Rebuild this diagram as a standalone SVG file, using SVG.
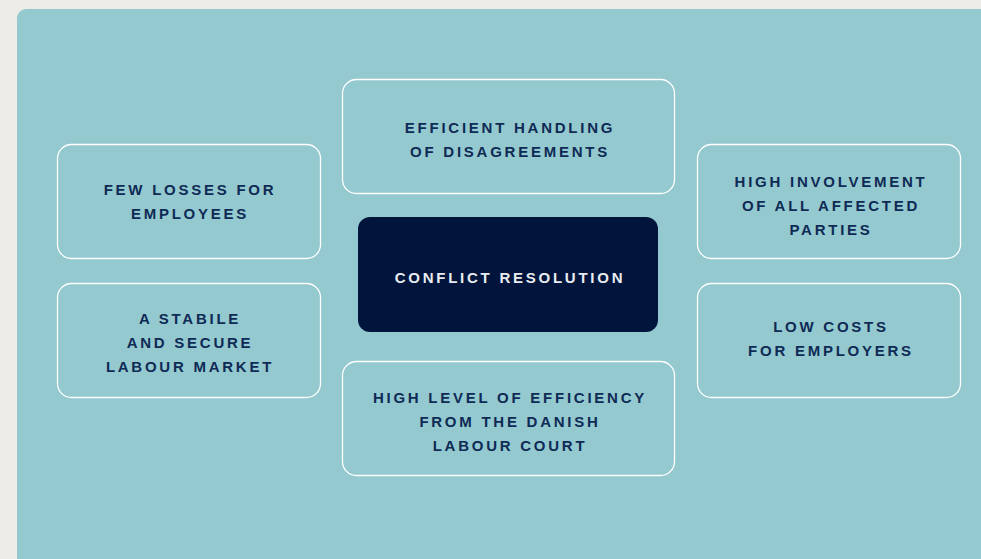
<svg xmlns="http://www.w3.org/2000/svg" width="981" height="559" viewBox="0 0 981 559">
<style>
.box{fill:none;stroke:#ffffff;stroke-width:1.3}
.lbl{font-family:"Liberation Sans",Arial,sans-serif;font-weight:bold;font-size:15px;letter-spacing:2.75px;fill:#0f2a55;text-anchor:middle}
.hub{fill:#00143c}
.hubt{fill:#e8ebef}
</style>
<rect x="0" y="0" width="981" height="559" fill="#edece6"/>
<rect x="17" y="9" width="990" height="580" rx="9" fill="#93c9cf"/>
<g id="connectors"></g>
<g id="n-top">
<rect class="box" x="342.5" y="79.5" width="332" height="114" rx="14"/>
<text class="lbl" x="510" y="133">EFFICIENT HANDLING</text>
<text class="lbl" x="510" y="157">OF DISAGREEMENTS</text>
</g>
<g id="n-center">
<rect class="hub" x="358" y="217" width="300" height="115" rx="12"/>
<text class="lbl hubt" x="510" y="283">CONFLICT RESOLUTION</text>
</g>
<g id="n-left-top">
<rect class="box" x="57.5" y="144.5" width="263" height="114" rx="14"/>
<text class="lbl" x="190" y="195">FEW LOSSES FOR</text>
<text class="lbl" x="190" y="219">EMPLOYEES</text>
</g>
<g id="n-left-bottom">
<rect class="box" x="57.5" y="283.5" width="263" height="114" rx="14"/>
<text class="lbl" x="190" y="324">A STABILE</text>
<text class="lbl" x="190" y="348">AND SECURE</text>
<text class="lbl" x="190" y="372">LABOUR MARKET</text>
</g>
<g id="n-right-top">
<rect class="box" x="697.5" y="144.5" width="263" height="114" rx="14"/>
<text class="lbl" x="831" y="187">HIGH INVOLVEMENT</text>
<text class="lbl" x="831" y="211">OF ALL AFFECTED</text>
<text class="lbl" x="831" y="235">PARTIES</text>
</g>
<g id="n-right-bottom">
<rect class="box" x="697.5" y="283.5" width="263" height="114" rx="14"/>
<text class="lbl" x="831" y="332">LOW COSTS</text>
<text class="lbl" x="831" y="356">FOR EMPLOYERS</text>
</g>
<g id="n-bottom">
<rect class="box" x="342.5" y="361.5" width="332" height="114" rx="14"/>
<text class="lbl" x="510" y="403">HIGH LEVEL OF EFFICIENCY</text>
<text class="lbl" x="510" y="427">FROM THE DANISH</text>
<text class="lbl" x="510" y="451">LABOUR COURT</text>
</g>
</svg>
